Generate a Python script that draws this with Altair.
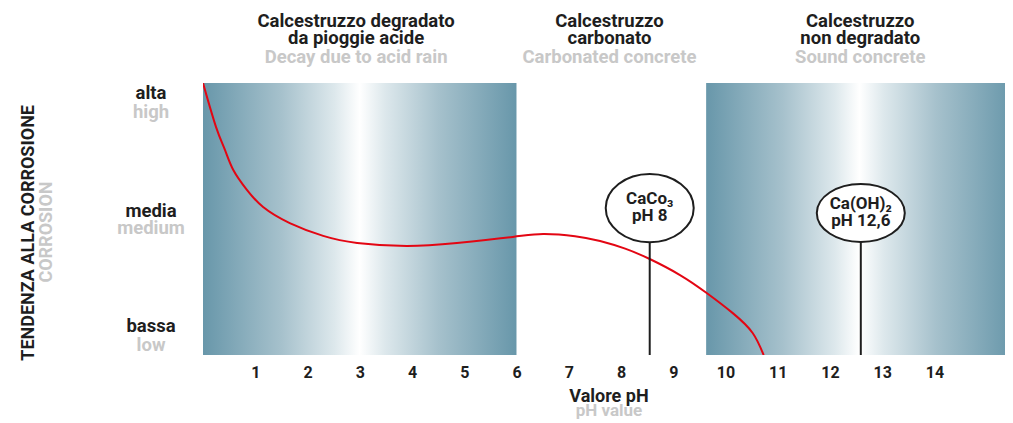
import altair as alt
import pandas as pd

FONT = "Roboto"
DARK = "#1e1e1e"
GRAY = "#c8c8c8"
RED = "#e30613"
EDGE = "#6897aa"

# --- data -------------------------------------------------------------
curve_ph = [0, 0.25, 0.42, 0.58, 0.84, 1.15, 1.66, 2.30, 2.95, 3.90, 4.86,
            5.93, 6.51, 7.12, 7.60, 8.08, 8.55, 9.13, 9.64, 10.14, 10.52, 10.73]
curve_val = [1.0, 0.838, 0.754, 0.680, 0.607, 0.544, 0.485, 0.438, 0.412,
             0.401, 0.412, 0.434, 0.445, 0.437, 0.419, 0.391, 0.353, 0.294,
             0.228, 0.154, 0.081, 0.0]

zone_start = [0, 9.63]
zone_end = [6, 15.5]

marker_ph = [8.55, 12.59]
marker_y = [0.540, 0.522]
marker_line1 = ["CaCo₃", "Ca(OH)₂"]
marker_line2 = ["pH 8", "pH 12,6"]
marker_ry = [0.773, 0.659]

tick_values = list(range(1, 15))

header_x = [2.93, 7.78, 12.58]
header_line1 = ["Calcestruzzo degradato", "Calcestruzzo", "Calcestruzzo"]
header_line2 = ["da pioggie acide", "carbonato", "non degradato"]
header_line3 = ["Decay due to acid rain", "Carbonated concrete", "Sound concrete"]

level_it = ["alta", "media", "bassa"]
level_en = ["high", "medium", "low"]
level_y_it = [0.963, 0.529, 0.107]
level_y_en = [0.893, 0.467, 0.037]

# --- frames -------------------------------------------------------------
curve_df = pd.DataFrame({"x": curve_ph, "y": curve_val})
zones_df = pd.DataFrame({"x": zone_start, "x2": zone_end,
                         "y": [0.0, 0.0], "y2": [1.0, 1.0]})

rows = []
for hx, a, b, c in zip(header_x, header_line1, header_line2, header_line3):
    rows.append({"x": hx, "y": 1.228, "t": a, "c": DARK, "s": 18.5})
    rows.append({"x": hx, "y": 1.164, "t": b, "c": DARK, "s": 18.5})
    rows.append({"x": hx, "y": 1.096, "t": c, "c": GRAY, "s": 18.5})
for it, en, yi, ye in zip(level_it, level_en, level_y_it, level_y_en):
    rows.append({"x": -0.995, "y": yi, "t": it, "c": DARK, "s": 18.5})
    rows.append({"x": -0.995, "y": ye, "t": en, "c": GRAY, "s": 18.5})
rows.append({"x": 7.77, "y": -0.154, "t": "Valore pH", "c": DARK, "s": 18})
rows.append({"x": 7.77, "y": -0.207, "t": "pH value", "c": GRAY, "s": 17})
text_df = pd.DataFrame(rows)

ytitle_df = pd.DataFrame({
    "x": [-3.33, -2.995],
    "y": [0.449, 0.452],
    "t": ["TENDENZA ALLA CORROSIONE", "CORROSION"],
    "c": [DARK, GRAY],
})

marker_df = pd.DataFrame({"x": marker_ph, "y": marker_y, "l1": marker_line1,
                          "l2": marker_line2, "y0": [0.0, 0.0]})

# --- encodings ----------------------------------------------------------
xs = alt.Scale(domain=[0, 15.35], nice=False, zero=False)
ys = alt.Scale(domain=[0, 1], nice=False, zero=False)
xaxis = alt.Axis(values=tick_values, domain=False, ticks=False, grid=False,
                 labelFont=FONT, labelFontSize=16, labelFontWeight="bold",
                 labelColor=DARK, labelPadding=9, title=None, labelFlush=False)
X = alt.X("x:Q", scale=xs, axis=xaxis)
Y = alt.Y("y:Q", scale=ys, axis=None)

gradient = alt.LinearGradient(
    gradient="linear", x1=0, x2=1, y1=0, y2=0,
    stops=[
        alt.GradientStop(color=EDGE, offset=0),
        alt.GradientStop(color="#a6c1cc", offset=0.25),
        alt.GradientStop(color="#dde8ec", offset=0.42),
        alt.GradientStop(color="#ffffff", offset=0.5),
        alt.GradientStop(color="#dde8ec", offset=0.58),
        alt.GradientStop(color="#a6c1cc", offset=0.75),
        alt.GradientStop(color=EDGE, offset=1),
    ],
)

zones = alt.Chart(zones_df).mark_rect(fill=gradient, clip=True).encode(
    x=X, x2="x2:Q", y=Y, y2="y2:Q"
)

curve = alt.Chart(curve_df).mark_line(
    color=RED, strokeWidth=2, interpolate="natural", clip=True
).encode(x=X, y=Y)

rules = alt.Chart(marker_df).mark_rule(color=DARK, strokeWidth=2).encode(
    x=X, y=alt.Y("y0:Q", scale=ys, axis=None), y2="y:Q"
)


def ellipse(ry):
    return f"M-1,0A1,{ry} 0 1,0 1,0A1,{ry} 0 1,0 -1,0Z"


ellipses = []
for i, ry in enumerate(marker_ry):
    ellipses.append(
        alt.Chart(marker_df.iloc[[i]]).mark_point(
            shape=ellipse(ry), size=7744, filled=True, fill="white",
            stroke=DARK, strokeWidth=2, opacity=1, fillOpacity=1,
        ).encode(x=X, y=Y)
    )

m_text1 = alt.Chart(marker_df).mark_text(
    font=FONT, fontSize=17, fontWeight="bold", color=DARK, dy=-9
).encode(x=X, y=Y, text="l1:N")
m_text2 = alt.Chart(marker_df).mark_text(
    font=FONT, fontSize=17, fontWeight="bold", color=DARK, dy=8
).encode(x=X, y=Y, text="l2:N")

texts = alt.Chart(text_df).mark_text(
    font=FONT, fontWeight="bold", baseline="middle"
).encode(x=X, y=Y, text="t:N", color=alt.Color("c:N", scale=None),
         size=alt.Size("s:Q", scale=None, legend=None))

ytitle = alt.Chart(ytitle_df).mark_text(
    font=FONT, fontSize=18, fontWeight="bold", angle=270, baseline="middle"
).encode(x=X, y=Y, text="t:N", color=alt.Color("c:N", scale=None))

chart = alt.layer(
    zones, curve, rules, *ellipses, m_text1, m_text2, texts, ytitle
).properties(
    width=802, height=272,
    autosize=alt.AutoSizeParams(type="none"),
    padding={"left": 195, "top": 75, "right": 0, "bottom": 65},
).configure_view(stroke=None)

chart.save("out.html", embed_options={"renderer": "svg", "actions": False})
